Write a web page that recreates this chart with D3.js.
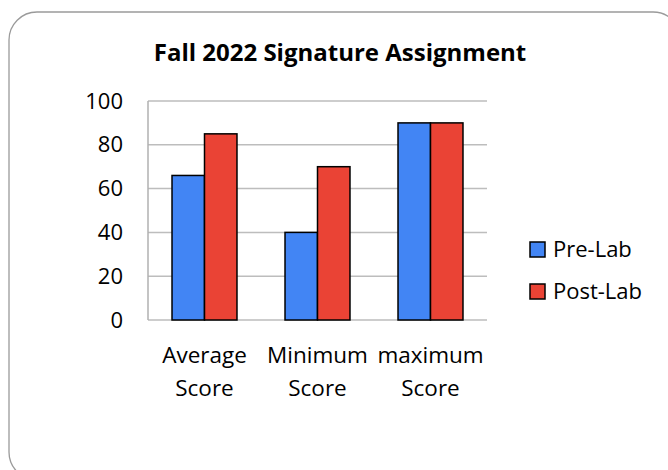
<!DOCTYPE html>
<html>
<head>
<meta charset="utf-8">
<script src="https://cdn.jsdelivr.net/npm/d3@7"></script>
<style>
  html, body { margin: 0; padding: 0; background: #fff; }
  svg { display: block; }
  text { font-family: "Open Sans", "Liberation Sans", sans-serif; fill: #000; }
</style>
</head>
<body>
<script>
const categories = ["Average Score", "Minimum Score", "maximum Score"];
const seriesNames = ["Pre-Lab", "Post-Lab"];
const preLab = [66, 40, 90];
const postLab = [85, 70, 90];
const yTicks = [0, 20, 40, 60, 80, 100];
const title = "Fall 2022 Signature Assignment";

const colors = { "Pre-Lab": "#4285f4", "Post-Lab": "#ea4335" };
const seriesValues = { "Pre-Lab": preLab, "Post-Lab": postLab };

const W = 668, H = 470;
const svg = d3.select("body").append("svg").attr("width", W).attr("height", H);

// chart border
svg.append("rect")
  .attr("x", 9).attr("y", 12)
  .attr("width", 672).attr("height", 468)
  .attr("rx", 28).attr("ry", 28)
  .attr("fill", "#fff").attr("stroke", "#9a9a9a").attr("stroke-width", 1.3);

// title
svg.append("text")
  .attr("x", 340).attr("y", 61)
  .attr("text-anchor", "middle")
  .attr("font-weight", "bold")
  .attr("font-size", 24)
  .text(title);

const plot = { left: 148, right: 487, top: 101, bottom: 320 };

const x = d3.scaleBand().domain(categories)
  .range([plot.left, plot.right])
  .paddingInner(0.425).paddingOuter(0.2125);
const xs = d3.scaleBand().domain(seriesNames).range([0, x.bandwidth()]).padding(0);
const y = d3.scaleLinear().domain([0, 100]).range([plot.bottom, plot.top]);

// gridlines
svg.append("g").selectAll("line").data(yTicks).join("line")
  .attr("x1", plot.left).attr("x2", plot.right)
  .attr("y1", d => y(d)).attr("y2", d => y(d))
  .attr("stroke", "#bdbdbd").attr("stroke-width", 1.5);

// y axis line
svg.append("line")
  .attr("x1", plot.left).attr("x2", plot.left)
  .attr("y1", y(100)).attr("y2", y(0))
  .attr("stroke", "#b0b0b0").attr("stroke-width", 1.5);

// y tick labels
const yAxis = d3.axisLeft(y).tickValues(yTicks).tickSize(0).tickPadding(25);
const yg = svg.append("g").attr("transform", `translate(${plot.left},0)`).call(yAxis);
yg.select(".domain").remove();
yg.selectAll("text").attr("font-size", 22).attr("font-family", "'Open Sans', sans-serif").attr("fill", "#000");

// bars
const groups = svg.append("g").selectAll("g").data(categories).join("g")
  .attr("transform", d => `translate(${x(d)},0)`);
groups.selectAll("rect")
  .data((c, i) => seriesNames.map(s => ({ s, v: seriesValues[s][i] })))
  .join("rect")
  .attr("x", d => xs(d.s))
  .attr("width", xs.bandwidth())
  .attr("y", d => y(d.v))
  .attr("height", d => y(0) - y(d.v))
  .attr("fill", d => colors[d.s])
  .attr("stroke", "#000").attr("stroke-width", 1.5);

// category labels (two lines)
const cl = svg.append("g").selectAll("text").data(categories).join("text")
  .attr("text-anchor", "middle")
  .attr("font-size", 22.5)
  .attr("x", d => x(d) + x.bandwidth() / 2)
  .attr("y", 363);
cl.selectAll("tspan").data(d => d.split(" ")).join("tspan")
  .attr("x", function () { return d3.select(this.parentNode).attr("x"); })
  .attr("dy", (d, i) => i === 0 ? 0 : 33)
  .text(d => d);

// legend
const lg = svg.append("g").selectAll("g").data(seriesNames).join("g")
  .attr("transform", (d, i) => `translate(530,${242 + i * 42})`);
lg.append("rect").attr("width", 15).attr("height", 15)
  .attr("fill", d => colors[d]).attr("stroke", "#000").attr("stroke-width", 1.5);
lg.append("text").attr("x", 23).attr("y", 15)
  .attr("font-size", 22).text(d => d);
</script>
</body>
</html>
